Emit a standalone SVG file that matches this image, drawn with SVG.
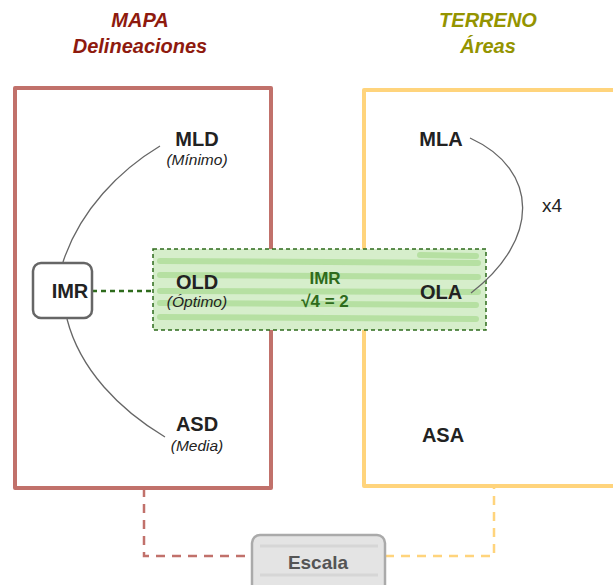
<svg xmlns="http://www.w3.org/2000/svg" width="613" height="585" viewBox="0 0 613 585">
<style>
.t{font-family:"Liberation Sans",Arial,sans-serif}
.lbl{font-size:20px;font-weight:bold;fill:#222;text-anchor:middle}
.sub{font-size:15.5px;font-style:italic;fill:#222;text-anchor:middle}
.ttl{font-size:20px;font-weight:bold;font-style:italic;text-anchor:middle}
.curve{fill:none;stroke:#666;stroke-width:1.3}
.stripe{stroke:#b6e0a2;stroke-width:6;stroke-linecap:round}
</style>
<rect width="613" height="585" fill="#fff"/>
<g id="titles">
<text class="t ttl" x="140" y="27" fill="#8e1a0e">MAPA</text>
<text class="t ttl" x="140" y="53" fill="#8e1a0e">Delineaciones</text>
<text class="t ttl" x="488" y="27" fill="#949400">TERRENO</text>
<text class="t ttl" x="488" y="53" fill="#949400">Áreas</text>
</g>
<g id="mapa">
<path d="M15,88 H271 V488 H15 Z" fill="none" stroke="#c1716b" stroke-width="4" stroke-linejoin="round"/>
</g>
<g id="terreno">
<path d="M625,90 H364 V486 H625" fill="none" stroke="#ffd47c" stroke-width="4" stroke-linejoin="round"/>
</g>
<g id="optimo">
<rect x="153" y="249" width="333" height="81" fill="#d6eecb" stroke="#2e6b1c" stroke-width="1.5" stroke-dasharray="4 3"/>
<line class="stripe" x1="160" y1="261" x2="478" y2="263"/>
<line class="stripe" x1="420" y1="255" x2="476" y2="256"/>
<line class="stripe" x1="160" y1="275" x2="478" y2="277"/>
<line class="stripe" x1="160" y1="291" x2="478" y2="292"/>
<line class="stripe" x1="160" y1="303" x2="476" y2="305"/>
<line class="stripe" x1="160" y1="317" x2="476" y2="319"/>
<text class="t" x="325" y="284" font-size="17" font-weight="bold" fill="#2e6b1c" text-anchor="middle">IMR</text>
<text class="t" x="325" y="307" font-size="17" font-weight="bold" fill="#2e6b1c" text-anchor="middle">√4 = 2</text>
</g>
<g id="connectors">
<path class="curve" d="M160,146 C120,170 80,210 63,262"/>
<path class="curve" d="M67,319 C80,370 120,410 165,437"/>
<path class="curve" d="M470,138 C540,170 540,240 471,293"/>
<line x1="92" y1="291" x2="153" y2="291" stroke="#2e6b1c" stroke-width="2.5" stroke-dasharray="5 4"/>
<path d="M144,488 V556 H252" fill="none" stroke="#c1716b" stroke-width="2.5" stroke-dasharray="9 7"/>
<path d="M385,556 H494 V486" fill="none" stroke="#ffd47c" stroke-width="2.5" stroke-dasharray="9 7"/>
</g>
<g id="imr">
<rect x="33" y="263" width="59" height="55" rx="8" fill="#fff" stroke="#666" stroke-width="2.5"/>
<text class="t lbl" x="70" y="298">IMR</text>
</g>
<g id="mld"><text class="t lbl" x="197" y="146">MLD</text><text class="t sub" x="197" y="165">(Mínimo)</text></g>
<g id="old"><text class="t lbl" x="197" y="289">OLD</text><text class="t sub" x="197" y="307">(Óptimo)</text></g>
<g id="asd"><text class="t lbl" x="197" y="431">ASD</text><text class="t sub" x="197" y="451">(Media)</text></g>
<g id="mla"><text class="t lbl" x="441" y="146">MLA</text></g>
<g id="ola"><text class="t lbl" x="441" y="299">OLA</text></g>
<g id="asa"><text class="t lbl" x="443" y="442">ASA</text></g>
<g id="x4"><text class="t" x="552" y="212" font-size="19" fill="#222" text-anchor="middle">x4</text></g>
<g id="escala">
<rect x="252" y="535" width="133" height="60" rx="8" fill="#e4e4e4" stroke="#aaa" stroke-width="2.5"/>
<line x1="260" y1="546" x2="378" y2="546" stroke="#d6d6d6" stroke-width="3"/>
<line x1="260" y1="575" x2="378" y2="575" stroke="#d6d6d6" stroke-width="3"/>
<text class="t" x="318" y="569" font-size="19" font-weight="bold" fill="#555" text-anchor="middle">Escala</text>
</g>
</svg>
